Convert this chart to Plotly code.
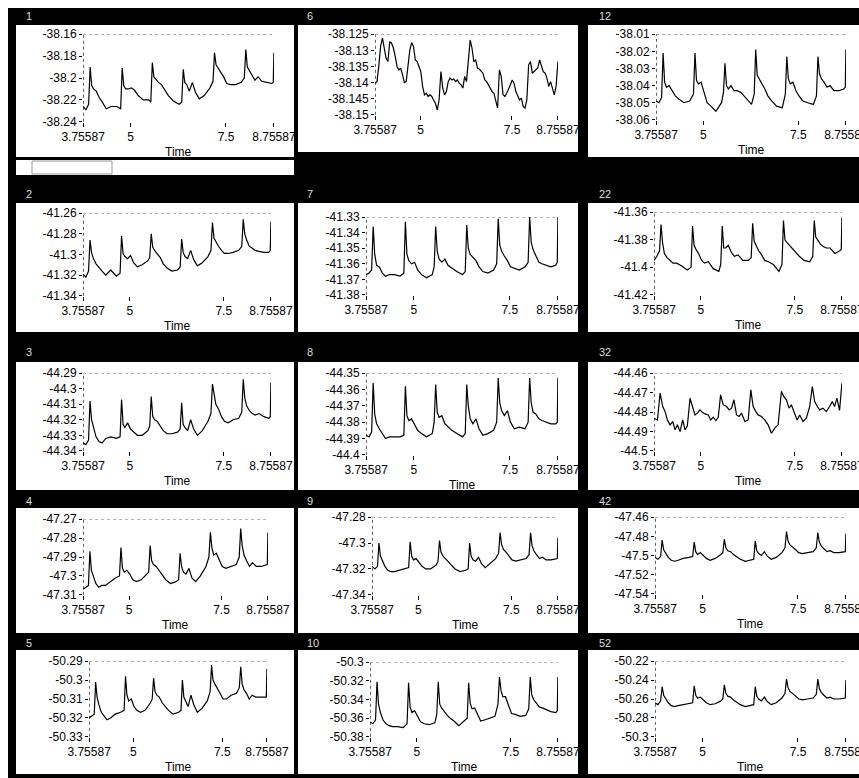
import plotly.graph_objects as go

# the page body margin is removed in post_script, so paper pixels = screen pixels
OFF = 0
W, H = 859, 778

# ---------------- data ----------------
TIME = [3.756, 3.83,
        3.90, 3.94, 3.98, 4.03, 4.10, 4.18, 4.26, 4.36, 4.49, 4.64,
        4.74, 4.78, 4.82, 4.87, 4.94, 5.02, 5.10, 5.20, 5.33, 5.48,
        5.53, 5.57, 5.61, 5.66, 5.73, 5.81, 5.89, 5.99, 6.12, 6.27,
        6.34, 6.38, 6.42, 6.47, 6.54, 6.62, 6.70, 6.80, 6.93, 7.08,
        7.16, 7.20, 7.24, 7.29, 7.36, 7.44, 7.52, 7.62, 7.75, 7.90,
        7.98, 8.02, 8.06, 8.11, 8.18, 8.26, 8.34, 8.44, 8.57, 8.70,
        8.74, 8.756]

TIME_6 = [3.756, 3.806, 3.856, 3.906, 3.956, 4.006, 4.056, 4.106, 4.156, 4.206,
          4.256, 4.306, 4.356, 4.406, 4.456, 4.506, 4.556, 4.606, 4.656, 4.706,
          4.756, 4.806, 4.856, 4.906, 4.956, 5.006, 5.056, 5.106, 5.156, 5.206,
          5.256, 5.306, 5.356, 5.406, 5.456, 5.506, 5.556, 5.606, 5.656, 5.706,
          5.756, 5.806, 5.856, 5.906, 5.956, 6.006, 6.056, 6.106, 6.156, 6.206,
          6.256, 6.306, 6.356, 6.406, 6.456, 6.506, 6.556, 6.606, 6.656, 6.706,
          6.756, 6.806, 6.856, 6.906, 6.956, 7.006, 7.056, 7.106, 7.156, 7.206,
          7.256, 7.306, 7.356, 7.406, 7.456, 7.506, 7.556, 7.606, 7.656, 7.706,
          7.756, 7.806, 7.856, 7.906, 7.956, 8.006, 8.056, 8.106, 8.156, 8.206,
          8.256, 8.306, 8.356, 8.406, 8.456, 8.506, 8.556, 8.606, 8.656, 8.706,
          8.756]

TIME_32 = [3.756, 3.845, 3.915, 3.986, 4.048, 4.110, 4.181, 4.252, 4.314, 4.376,
           4.446, 4.517, 4.579, 4.641, 4.712, 4.783, 4.845, 4.907, 4.977, 5.048,
           5.110, 5.199, 5.261, 5.331, 5.402, 5.464, 5.526, 5.597, 5.685, 5.756,
           5.818, 5.880, 5.951, 6.022, 6.084, 6.172, 6.261, 6.331, 6.393, 6.464,
           6.526, 6.615, 6.703, 6.792, 6.880, 6.969, 7.057, 7.146, 7.208, 7.278,
           7.349, 7.411, 7.500, 7.562, 7.632, 7.721, 7.809, 7.898, 7.969, 8.031,
           8.102, 8.163, 8.252, 8.340, 8.429, 8.500, 8.562, 8.624, 8.694, 8.756]

X_TICKS = [3.75587, 5, 7.5, 8.75587]
X_TICK_TEXT = ["3.75587", "5", "7.5", "8.75587"]

V1 = [-38.226, -38.229,
      -38.224, -38.190, -38.207, -38.210, -38.212, -38.218, -38.222, -38.228, -38.226, -38.226,
      -38.228, -38.191, -38.207, -38.210, -38.210, -38.209, -38.211, -38.216, -38.220, -38.220,
      -38.222, -38.186, -38.199, -38.201, -38.204, -38.206, -38.211, -38.216, -38.221, -38.224,
      -38.222, -38.192, -38.204, -38.206, -38.212, -38.204, -38.213, -38.219, -38.216, -38.209,
      -38.203, -38.177, -38.188, -38.191, -38.194, -38.199, -38.205, -38.206, -38.206, -38.204,
      -38.200, -38.174, -38.190, -38.193, -38.197, -38.202, -38.199, -38.203, -38.204, -38.205,
      -38.204, -38.177]

V6 = [-38.1402, -38.1397, -38.1350, -38.1288, -38.1262, -38.1299, -38.1324, -38.1335, -38.1273, -38.1278,
      -38.1293, -38.1319, -38.1350, -38.1361, -38.1355, -38.1376, -38.1400, -38.1397, -38.1345, -38.1299,
      -38.1276, -38.1288, -38.1330, -38.1335, -38.1350, -38.1366, -38.1412, -38.1438, -38.1433, -38.1443,
      -38.1438, -38.1443, -38.1454, -38.1464, -38.1485, -38.1454, -38.1366, -38.1417, -38.1438, -38.1428,
      -38.1397, -38.1386, -38.1392, -38.1389, -38.1397, -38.1392, -38.1402, -38.1407, -38.1417, -38.1381,
      -38.1397, -38.1324, -38.1268, -38.1293, -38.1335, -38.1330, -38.1355, -38.1358, -38.1366, -38.1371,
      -38.1392, -38.1397, -38.1407, -38.1417, -38.1428, -38.1433, -38.1459, -38.1479, -38.1361, -38.1381,
      -38.1438, -38.1443, -38.1433, -38.1417, -38.1407, -38.1392, -38.1402, -38.1428, -38.1443, -38.1454,
      -38.1448, -38.1474, -38.1479, -38.1454, -38.1345, -38.1335, -38.1371, -38.1366, -38.1361, -38.1355,
      -38.1330, -38.1345, -38.1366, -38.1371, -38.1386, -38.1412, -38.1397, -38.1417, -38.1438, -38.1412,
      -38.1335]

V12 = [-38.049, -38.050,
       -38.047, -38.021, -38.038, -38.041, -38.040, -38.043, -38.046, -38.048, -38.050, -38.049,
       -38.045, -38.021, -38.037, -38.039, -38.038, -38.044, -38.050, -38.052, -38.055, -38.050,
       -38.044, -38.027, -38.040, -38.042, -38.040, -38.043, -38.043, -38.044, -38.047, -38.051,
       -38.045, -38.019, -38.034, -38.036, -38.038, -38.042, -38.046, -38.049, -38.052, -38.053,
       -38.045, -38.023, -38.036, -38.039, -38.038, -38.043, -38.046, -38.049, -38.050, -38.051,
       -38.046, -38.023, -38.033, -38.036, -38.038, -38.041, -38.040, -38.043, -38.043, -38.042,
       -38.041, -38.019]

V2 = [-41.319, -41.322,
      -41.316, -41.286, -41.298, -41.304, -41.309, -41.312, -41.316, -41.320, -41.315, -41.321,
      -41.318, -41.282, -41.299, -41.302, -41.304, -41.301, -41.308, -41.312, -41.310, -41.306,
      -41.303, -41.280, -41.293, -41.296, -41.299, -41.303, -41.309, -41.313, -41.316, -41.315,
      -41.312, -41.285, -41.298, -41.302, -41.304, -41.296, -41.305, -41.311, -41.308, -41.302,
      -41.296, -41.269, -41.284, -41.288, -41.292, -41.296, -41.299, -41.299, -41.298, -41.296,
      -41.292, -41.266, -41.280, -41.286, -41.292, -41.294, -41.296, -41.297, -41.298, -41.298,
      -41.296, -41.268]

V7 = [-41.367, -41.366,
      -41.364, -41.336, -41.354, -41.361, -41.362, -41.366, -41.368, -41.367, -41.367, -41.368,
      -41.366, -41.333, -41.354, -41.358, -41.360, -41.359, -41.364, -41.367, -41.369, -41.367,
      -41.362, -41.336, -41.352, -41.357, -41.359, -41.357, -41.361, -41.363, -41.365, -41.367,
      -41.365, -41.335, -41.350, -41.354, -41.356, -41.358, -41.362, -41.365, -41.366, -41.364,
      -41.360, -41.331, -41.348, -41.352, -41.355, -41.358, -41.362, -41.363, -41.364, -41.362,
      -41.359, -41.330, -41.346, -41.351, -41.355, -41.359, -41.360, -41.361, -41.362, -41.361,
      -41.359, -41.330]

V22 = [-41.395, -41.392,
       -41.388, -41.369, -41.382, -41.390, -41.393, -41.395, -41.397, -41.397, -41.399, -41.402,
       -41.400, -41.370, -41.384, -41.387, -41.390, -41.395, -41.397, -41.396, -41.401, -41.403,
       -41.398, -41.370, -41.386, -41.386, -41.384, -41.389, -41.392, -41.391, -41.395, -41.395,
       -41.393, -41.368, -41.381, -41.384, -41.388, -41.391, -41.395, -41.396, -41.398, -41.403,
       -41.398, -41.366, -41.380, -41.382, -41.384, -41.387, -41.389, -41.392, -41.395, -41.396,
       -41.392, -41.366, -41.378, -41.380, -41.383, -41.385, -41.386, -41.386, -41.390, -41.388,
       -41.387, -41.364]

V3 = [-44.335, -44.336,
      -44.333, -44.308, -44.320, -44.325, -44.331, -44.334, -44.335, -44.332, -44.331, -44.332,
      -44.331, -44.307, -44.323, -44.325, -44.322, -44.326, -44.328, -44.330, -44.330, -44.327,
      -44.324, -44.305, -44.318, -44.320, -44.321, -44.324, -44.327, -44.329, -44.329, -44.328,
      -44.326, -44.309, -44.323, -44.325, -44.327, -44.320, -44.326, -44.330, -44.327, -44.321,
      -44.316, -44.297, -44.302, -44.310, -44.313, -44.318, -44.321, -44.322, -44.320, -44.319,
      -44.315, -44.294, -44.306, -44.311, -44.314, -44.316, -44.317, -44.316, -44.318, -44.319,
      -44.318, -44.296]

V8 = [-44.388, -44.389,
      -44.386, -44.356, -44.375, -44.381, -44.384, -44.387, -44.390, -44.389, -44.389, -44.389,
      -44.388, -44.358, -44.376, -44.379, -44.378, -44.382, -44.385, -44.387, -44.389, -44.387,
      -44.380, -44.357, -44.374, -44.377, -44.376, -44.381, -44.383, -44.385, -44.387, -44.389,
      -44.387, -44.357, -44.370, -44.378, -44.381, -44.378, -44.384, -44.388, -44.387, -44.385,
      -44.380, -44.353, -44.368, -44.373, -44.376, -44.373, -44.380, -44.384, -44.383, -44.384,
      -44.380, -44.353, -44.368, -44.374, -44.375, -44.378, -44.379, -44.380, -44.381, -44.381,
      -44.380, -44.353]

V32 = [-44.4832, -44.4841, -44.4703, -44.4772, -44.4798, -44.4841, -44.4866, -44.4849, -44.4892, -44.4866,
       -44.4901, -44.4841, -44.4892, -44.4871, -44.4729, -44.4780, -44.4815, -44.4806, -44.4789, -44.4803,
       -44.4810, -44.4815, -44.4841, -44.4827, -44.4844, -44.4827, -44.4712, -44.4763, -44.4772, -44.4789,
       -44.4780, -44.4737, -44.4815, -44.4823, -44.4806, -44.4849, -44.4841, -44.4686, -44.4772, -44.4798,
       -44.4815, -44.4823, -44.4841, -44.4866, -44.4909, -44.4883, -44.4866, -44.4694, -44.4720, -44.4737,
       -44.4780, -44.4763, -44.4815, -44.4841, -44.4815, -44.4849, -44.4832, -44.4772, -44.4669, -44.4746,
       -44.4772, -44.4789, -44.4780, -44.4798, -44.4772, -44.4746, -44.4772, -44.4729, -44.4792, -44.4652]

V4 = [-47.307, -47.306,
      -47.305, -47.287, -47.297, -47.300, -47.304, -47.306, -47.305, -47.305, -47.303, -47.301,
      -47.300, -47.285, -47.296, -47.298, -47.297, -47.299, -47.302, -47.303, -47.302, -47.299,
      -47.298, -47.284, -47.292, -47.294, -47.295, -47.297, -47.299, -47.302, -47.304, -47.303,
      -47.302, -47.288, -47.295, -47.298, -47.299, -47.296, -47.301, -47.303, -47.300, -47.295,
      -47.290, -47.277, -47.285, -47.289, -47.288, -47.292, -47.295, -47.296, -47.295, -47.294,
      -47.290, -47.275, -47.284, -47.289, -47.292, -47.295, -47.293, -47.295, -47.295, -47.294,
      -47.294, -47.277]

V9 = [-47.318, -47.320,
      -47.318, -47.300, -47.310, -47.314, -47.318, -47.321, -47.322, -47.322, -47.321, -47.320,
      -47.319, -47.299, -47.310, -47.313, -47.312, -47.315, -47.318, -47.320, -47.320, -47.317,
      -47.314, -47.298, -47.307, -47.310, -47.312, -47.314, -47.317, -47.320, -47.322, -47.321,
      -47.320, -47.300, -47.310, -47.313, -47.314, -47.311, -47.316, -47.319, -47.316, -47.312,
      -47.308, -47.292, -47.301, -47.305, -47.307, -47.310, -47.313, -47.314, -47.313, -47.312,
      -47.309, -47.292, -47.302, -47.306, -47.309, -47.312, -47.311, -47.313, -47.313, -47.312,
      -47.312, -47.296]

V42 = [-47.502, -47.504,
       -47.501, -47.484, -47.494, -47.498, -47.502, -47.505, -47.506, -47.505, -47.503, -47.502,
       -47.501, -47.486, -47.496, -47.499, -47.497, -47.500, -47.503, -47.505, -47.503, -47.499,
       -47.497, -47.483, -47.492, -47.495, -47.496, -47.499, -47.501, -47.504, -47.506, -47.505,
       -47.504, -47.485, -47.495, -47.498, -47.500, -47.496, -47.501, -47.504, -47.502, -47.497,
       -47.492, -47.475, -47.485, -47.489, -47.491, -47.494, -47.497, -47.498, -47.497, -47.496,
       -47.492, -47.476, -47.486, -47.490, -47.493, -47.496, -47.495, -47.497, -47.497, -47.496,
       -47.496, -47.477]

V5 = [-50.320, -50.319,
      -50.318, -50.301, -50.309, -50.313, -50.317, -50.319, -50.321, -50.320, -50.318, -50.317,
      -50.316, -50.298, -50.308, -50.311, -50.310, -50.314, -50.316, -50.317, -50.316, -50.312,
      -50.310, -50.299, -50.306, -50.308, -50.309, -50.312, -50.314, -50.316, -50.318, -50.317,
      -50.316, -50.300, -50.309, -50.311, -50.314, -50.308, -50.313, -50.317, -50.315, -50.311,
      -50.306, -50.292, -50.300, -50.302, -50.304, -50.307, -50.310, -50.310, -50.308, -50.307,
      -50.304, -50.293, -50.302, -50.305, -50.307, -50.310, -50.308, -50.309, -50.309, -50.309,
      -50.309, -50.294]

V10 = [-50.364, -50.366,
       -50.362, -50.321, -50.345, -50.354, -50.362, -50.366, -50.368, -50.369, -50.369, -50.370,
       -50.366, -50.322, -50.348, -50.354, -50.352, -50.358, -50.364, -50.366, -50.367, -50.365,
       -50.356, -50.321, -50.345, -50.349, -50.353, -50.357, -50.360, -50.363, -50.368, -50.362,
       -50.360, -50.322, -50.344, -50.350, -50.349, -50.356, -50.363, -50.362, -50.360, -50.358,
       -50.345, -50.316, -50.330, -50.337, -50.337, -50.345, -50.355, -50.356, -50.358, -50.357,
       -50.350, -50.316, -50.335, -50.340, -50.344, -50.348, -50.349, -50.351, -50.353, -50.354,
       -50.352, -50.316]

V52 = [-50.264, -50.266,
       -50.262, -50.247, -50.256, -50.260, -50.264, -50.267, -50.268, -50.267, -50.266, -50.265,
       -50.264, -50.246, -50.256, -50.259, -50.258, -50.261, -50.264, -50.266, -50.265, -50.262,
       -50.260, -50.245, -50.254, -50.257, -50.258, -50.261, -50.263, -50.266, -50.268, -50.267,
       -50.266, -50.247, -50.257, -50.260, -50.262, -50.258, -50.263, -50.266, -50.264, -50.259,
       -50.254, -50.239, -50.248, -50.252, -50.254, -50.257, -50.260, -50.261, -50.260, -50.259,
       -50.255, -50.239, -50.249, -50.253, -50.256, -50.259, -50.258, -50.260, -50.260, -50.259,
       -50.259, -50.240]

YT1 = [-38.24, -38.22, -38.2, -38.18, -38.16]
YT6 = [-38.15, -38.145, -38.14, -38.135, -38.13, -38.125]
YT12 = [-38.06, -38.05, -38.04, -38.03, -38.02, -38.01]
YT2 = [-41.34, -41.32, -41.3, -41.28, -41.26]
YT7 = [-41.38, -41.37, -41.36, -41.35, -41.34, -41.33]
YT22 = [-41.42, -41.4, -41.38, -41.36]
YT3 = [-44.34, -44.33, -44.32, -44.31, -44.3, -44.29]
YT8 = [-44.4, -44.39, -44.38, -44.37, -44.36, -44.35]
YT32 = [-44.5, -44.49, -44.48, -44.47, -44.46]
YT4 = [-47.31, -47.3, -47.29, -47.28, -47.27]
YT9 = [-47.34, -47.32, -47.3, -47.28]
YT42 = [-47.54, -47.52, -47.5, -47.48, -47.46]
YT5 = [-50.33, -50.32, -50.31, -50.3, -50.29]
YT10 = [-50.38, -50.36, -50.34, -50.32, -50.3]
YT52 = [-50.3, -50.28, -50.26, -50.24, -50.22]

# ---------------- layout geometry (screen pixels) ----------------
COLS = [(16, 294), (298, 578), (588, 860)]
ROWS = [(25, 157), (203, 332), (362, 490), (508, 633), (650, 774)]
LABEL_Y = [16, 194, 352, 501, 643]
LABEL_X = [24, 305, 597]

panels = [
    # label, t, v, yticks, (x0, x1, ytop, ybot), row, col, show_time
    ("1", TIME, V1, YT1, (83, 274, 34, 122), 0, 0, True),
    ("6", TIME_6, V6, YT6, (375, 558, 34, 115), 0, 1, False),
    ("12", TIME, V12, YT12, (656, 846, 34, 120), 0, 2, True),
    ("2", TIME, V2, YT2, (83, 271, 213, 296), 1, 0, True),
    ("7", TIME, V7, YT7, (366, 558, 217, 295), 1, 1, False),
    ("22", TIME, V22, YT22, (654, 842, 212, 295), 1, 2, True),
    ("3", TIME, V3, YT3, (83, 271, 373, 451), 2, 0, True),
    ("8", TIME, V8, YT8, (366, 558, 373, 455), 2, 1, True),
    ("32", TIME_32, V32, YT32, (654, 842, 373, 451), 2, 2, True),
    ("4", TIME, V4, YT4, (83, 268, 519, 595), 3, 0, True),
    ("9", TIME, V9, YT9, (372, 558, 517, 595), 3, 1, True),
    ("42", TIME, V42, YT42, (655, 846, 517, 594), 3, 2, True),
    ("5", TIME, V5, YT5, (89, 267, 661, 737), 4, 0, True),
    ("10", TIME, V10, YT10, (370, 558, 662, 737), 4, 1, True),
    ("52", TIME, V52, YT52, (655, 846, 661, 737), 4, 2, True),
]

FONT = dict(family="Liberation Sans", size=12, color="black")


def px(x):
    return (x - OFF) / W


def py(y):
    return 1 - (y - OFF) / H


fig = go.Figure()
shapes = []
annotations = []
layout = {}

# white page strips at top and left
shapes.append(dict(type="rect", xref="paper", yref="paper", x0=0, x1=1, y0=py(8), y1=1,
                   fillcolor="white", line=dict(width=0), layer="below"))
shapes.append(dict(type="rect", xref="paper", yref="paper", x0=0, x1=px(8), y0=0, y1=1,
                   fillcolor="white", line=dict(width=0), layer="below"))
# the small slider strip under panel 1
shapes.append(dict(type="rect", xref="paper", yref="paper", x0=px(16), x1=px(294), y0=py(175), y1=py(160),
                   fillcolor="white", line=dict(width=0), layer="below"))
shapes.append(dict(type="rect", xref="paper", yref="paper", x0=px(32), x1=px(112), y0=py(174), y1=py(161),
                   fillcolor="white", line=dict(width=1, color="#999"), layer="below"))

for i, (lab, t, v, yt, box, r, c, show_time) in enumerate(panels, start=1):
    xa = "x" if i == 1 else f"x{i}"
    ya = "y" if i == 1 else f"y{i}"
    x0, x1, ytop, ybot = box
    cx0, cx1 = COLS[c]
    ry0, ry1 = ROWS[r]
    if i == 2:
        ry1 = 152
    shapes.append(dict(type="rect", xref="paper", yref="paper", x0=px(cx0), x1=px(cx1),
                       y0=py(ry1), y1=py(ry0), fillcolor="white", line=dict(width=0), layer="below"))

    fig.add_trace(go.Scatter(x=t, y=v, mode="lines", line=dict(color="black", width=1.2),
                             xaxis=xa, yaxis=ya, showlegend=False, hoverinfo="skip"))

    ymin, ymax = min(yt), max(yt)
    eps_y = (ymax - ymin) * 0.002
    layout[f"xaxis{i}"] = dict(domain=[px(x0), px(x1)], anchor=ya, automargin=False,
                               range=[X_TICKS[0] - 0.003, X_TICKS[-1] + 0.003],
                               tickmode="array", tickvals=X_TICKS, ticktext=X_TICK_TEXT,
                               ticks="outside", ticklen=4, tickcolor="black", tickwidth=1,
                               ticklabeloverflow="allow",
                               showgrid=False, zeroline=False, showline=False,
                               tickfont=FONT, fixedrange=True)
    layout[f"yaxis{i}"] = dict(domain=[py(ybot), py(ytop)], anchor=xa, automargin=False,
                               range=[ymin - eps_y, ymax + eps_y],
                               tickmode="array", tickvals=yt, ticktext=[f"{val:g}" for val in yt],
                               ticks="outside", ticklen=3, tickcolor="black", tickwidth=1,
                               showgrid=False, zeroline=False, showline=False,
                               tickfont=FONT, fixedrange=True)
    # dotted left axis and faint dotted top border
    shapes.append(dict(type="line", xref=xa, yref=ya, x0=X_TICKS[0], x1=X_TICKS[0], y0=ymin, y1=ymax,
                       line=dict(color="black", width=1, dash="dot"), layer="below"))
    shapes.append(dict(type="line", xref=xa, yref=ya, x0=X_TICKS[0], x1=X_TICKS[-1], y0=ymax, y1=ymax,
                       line=dict(color="#888", width=1, dash="dot"), layer="below"))

    annotations.append(dict(text=lab, xref="paper", yref="paper", x=px(LABEL_X[c]), y=py(LABEL_Y[r]),
                            xanchor="left", yanchor="middle", showarrow=False,
                            font=dict(family="Liberation Sans", size=11, color="#dddddd")))
    if show_time:
        annotations.append(dict(text="Time", xref="paper", yref="paper", x=px((x0 + x1) / 2),
                                y=py(ybot + 30), xanchor="center", yanchor="middle", showarrow=False,
                                font=FONT))

fig.update_layout(width=W, height=H, margin=dict(l=0, r=0, t=0, b=0, autoexpand=False),
                  paper_bgcolor="black", plot_bgcolor="rgba(0,0,0,0)",
                  shapes=shapes, annotations=annotations, showlegend=False, **layout)

fig.write_html("out.html", config={"displayModeBar": False, "staticPlot": True},
               post_script="document.body.style.margin='0';"
                           "document.documentElement.style.overflow='hidden';"
                           "document.body.style.overflow='hidden';")
